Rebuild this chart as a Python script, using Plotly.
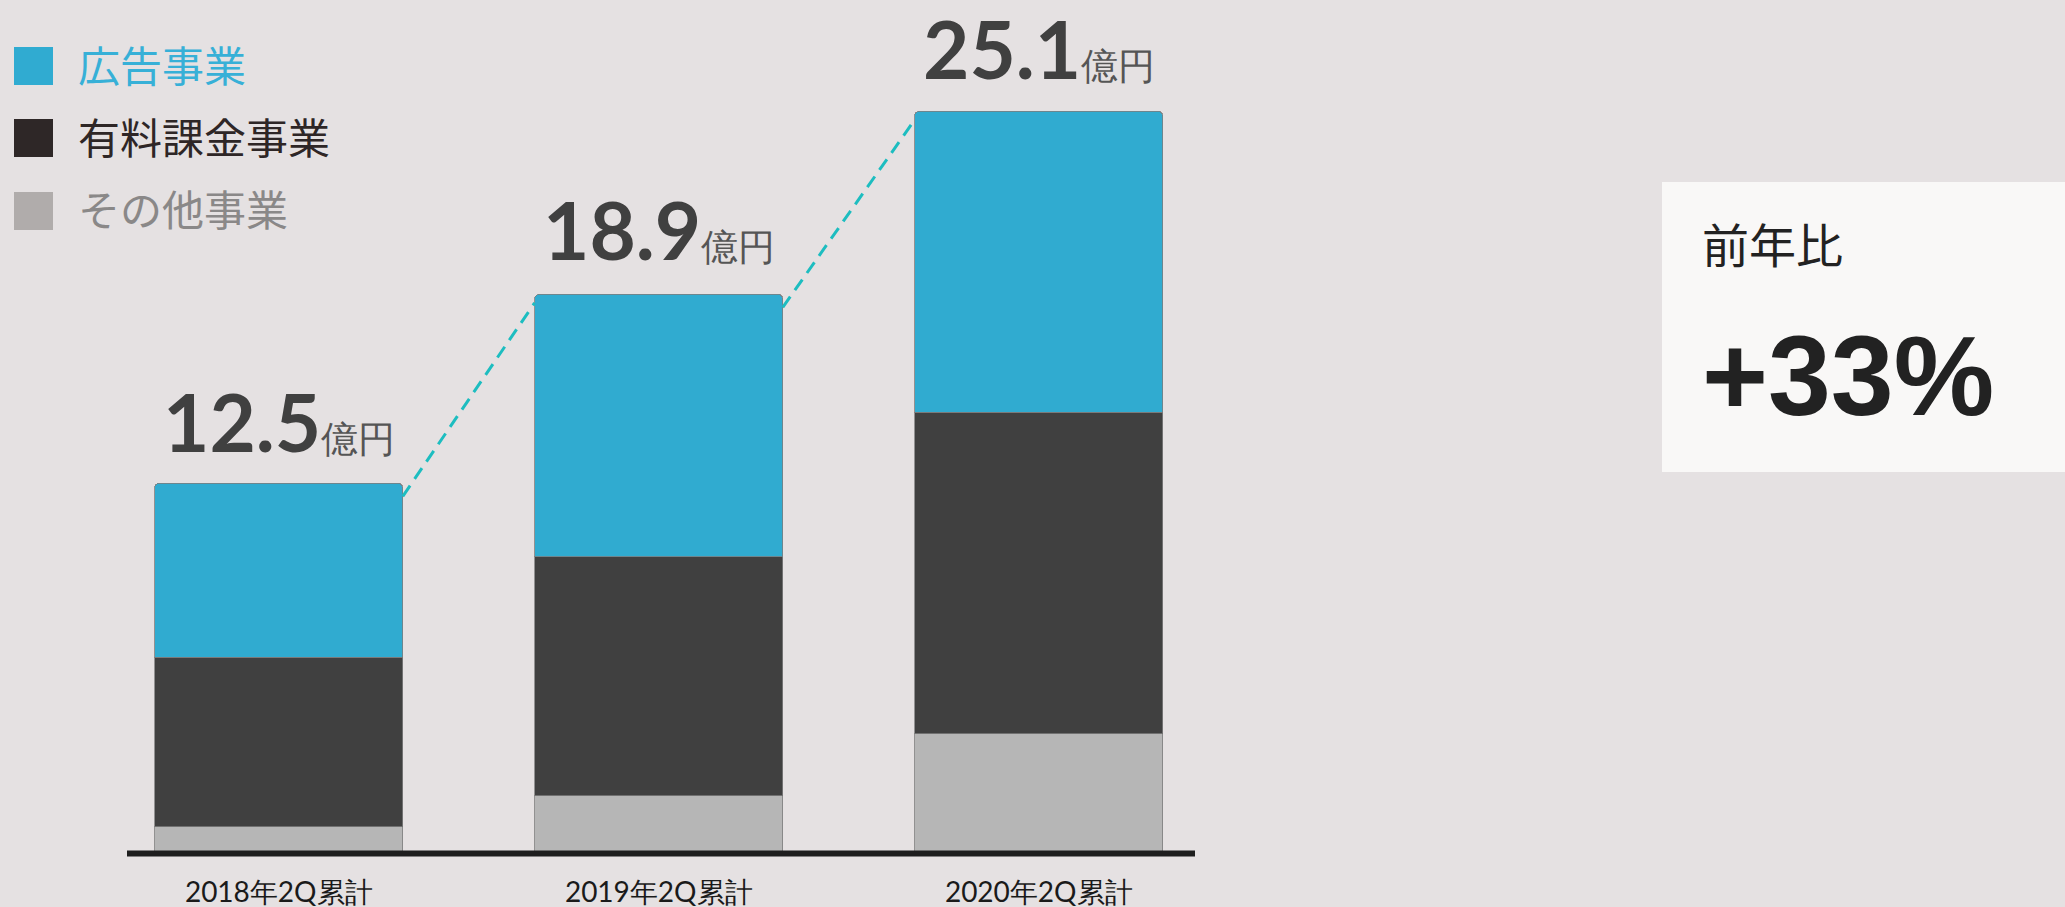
import plotly.graph_objects as go

# ---- data ----
categories = ["2018年2Q累計", "2019年2Q累計", "2020年2Q累計"]
ad_business = [5.9, 8.9, 10.2]        # 広告事業
paid_business = [5.75, 8.1, 10.9]     # 有料課金事業
other_business = [0.85, 1.9, 4.0]     # その他事業
series_names = ["広告事業", "有料課金事業", "その他事業"]
yoy_label = "前年比"
yoy_value = "+33%"
unit = "億円"

totals = [a + b + c for a, b, c in zip(ad_business, paid_business, other_business)]

# ---- layout constants (pixels) ----
W, H = 2065, 907
BASE_PX = 852          # y pixel of the zero line
PX_PER_UNIT = 29.52
X0_PX = 278.7          # pixel centre of first bar
X_STEP = 380.0         # pixels between bar centres
BAR_W = 0.653
LABEL_SHIFTS = [12, 15, 13]   # label offsets above bar tops (px)

yr = [0, BASE_PX / PX_PER_UNIT]
xr = [(0 - X0_PX) / X_STEP, (W - X0_PX) / X_STEP]

def px_x(p):
    return p / W

def px_y(p):
    return (BASE_PX - p) / BASE_PX

BLUE = "#30ABD0"
DARK = "#404040"
GRAY = "#B6B6B6"
EDGE = "rgba(125,125,125,0.8)"

fig = go.Figure()
xs = list(range(len(categories)))
for vals, col in [(other_business, GRAY), (paid_business, DARK), (ad_business, BLUE)]:
    fig.add_trace(go.Bar(
        x=xs, y=vals, width=BAR_W,
        marker=dict(color=col, line=dict(color=EDGE, width=1)),
        showlegend=False, hoverinfo="skip",
    ))

# dashed connectors between bar tops
for i in range(len(totals) - 1):
    fig.add_trace(go.Scatter(
        x=[i + BAR_W / 2, i + 1 - BAR_W / 2],
        y=[totals[i] - 0.45, totals[i + 1] - 0.3],
        mode="lines",
        line=dict(color="#1DBDC0", width=3, dash="13px,8px"),
        showlegend=False, hoverinfo="skip",
    ))

annotations = []
# totals above bars
for i, t in enumerate(totals):
    annotations.append(dict(
        x=i, y=t, xref="x", yref="y", xanchor="center", yanchor="bottom",
        yshift=LABEL_SHIFTS[i], showarrow=False,
        text=f"<b>{t:.1f}</b><span style='font-size:37px;color:#555555'>{unit}</span>",
        font=dict(family="Lato", size=80, color="#404040"),
    ))

# custom legend
leg_sq_cols = ["#30ABD1", "#2E2727", "#B0ACAB"]
leg_txt_cols = ["#37B0D7", "#2E2626", "#8A8888"]
leg_centers = [66, 138, 211]
shapes = []
for name, sc, tc, cy in zip(series_names, leg_sq_cols, leg_txt_cols, leg_centers):
    shapes.append(dict(
        type="rect", xref="paper", yref="paper",
        x0=px_x(14), x1=px_x(53), y0=px_y(cy + 19), y1=px_y(cy - 19),
        fillcolor=sc, line=dict(width=0), layer="above",
    ))
    annotations.append(dict(
        x=px_x(76), y=px_y(cy - 3), xref="paper", yref="paper",
        xanchor="left", yanchor="middle", showarrow=False,
        text=name, font=dict(family="Noto Sans CJK JP", size=42, color=tc),
    ))

# baseline (paper refs so it is not clipped by the plot area)
shapes.append(dict(
    type="line", xref="paper", yref="paper",
    x0=px_x(127), x1=px_x(1195), y0=px_y(853.5), y1=px_y(853.5),
    line=dict(color="#1E1E1E", width=6), layer="above",
))

# YoY box
shapes.append(dict(
    type="rect", xref="paper", yref="paper",
    x0=px_x(1662), x1=1.0, y0=px_y(472), y1=px_y(182),
    fillcolor="#F9F8F7", line=dict(width=0), layer="below",
))
annotations.append(dict(
    x=px_x(1700), y=px_y(242), xref="paper", yref="paper",
    xanchor="left", yanchor="middle", showarrow=False,
    text=yoy_label, font=dict(family="Noto Sans CJK JP", size=47, color="#222222"),
))
annotations.append(dict(
    x=px_x(1700), y=px_y(376), xref="paper", yref="paper",
    xanchor="left", yanchor="middle", showarrow=False,
    text=f"<b>{yoy_value}</b>", font=dict(family="Liberation Sans", size=113, color="#222222"),
))

fig.update_layout(
    width=W, height=H,
    margin=dict(l=0, r=0, t=0, b=H - BASE_PX, pad=0),
    paper_bgcolor="#E5E1E2", plot_bgcolor="#E5E1E2",
    barmode="stack", barcornerradius=5,
    showlegend=False,
    annotations=annotations, shapes=shapes,
    xaxis=dict(
        range=xr, tickvals=xs, ticktext=categories, ticks="",
        showgrid=False, zeroline=False, showline=False,
        tickfont=dict(family="Lato", size=28, color="#1A1A1A"),
        ticklabelstandoff=21, fixedrange=True,
    ),
    yaxis=dict(
        range=yr, showgrid=False, zeroline=False, showline=False,
        showticklabels=False, fixedrange=True,
    ),
)

fig.write_html("out.html", config={"displayModeBar": False},
               post_script="document.body.style.margin='0';document.body.style.overflow='hidden';")
